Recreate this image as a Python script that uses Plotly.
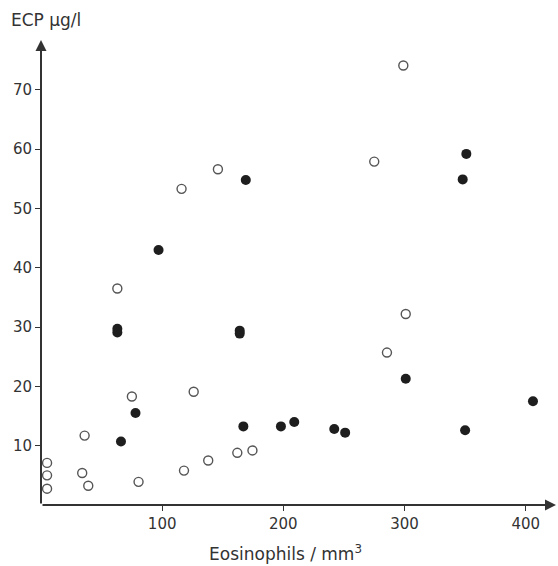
import plotly.graph_objects as go

# Open circles (series A)
open_x = [63, 75, 126, 36, 5, 5, 5, 34, 39, 80.5, 118, 138, 162, 174.5, 285.5, 301, 116, 146, 275, 299]
open_y = [36.5, 18.3, 19.1, 11.7, 7.1, 5.0, 2.75, 5.4, 3.25, 3.9, 5.8, 7.5, 8.8, 9.2, 25.7, 32.2, 53.3, 56.6, 57.9, 74.1]

# Filled circles (series B)
filled_x = [63, 63, 78, 66, 164, 164, 167, 198, 209, 242, 251, 301, 350, 406, 97, 169, 351, 348]
filled_y = [29.1, 29.7, 15.5, 10.7, 28.9, 29.4, 13.25, 13.25, 14.0, 12.8, 12.2, 21.3, 12.6, 17.5, 43.0, 54.8, 59.2, 54.9]

x_ticks = [100, 200, 300, 400]
y_ticks = [10, 20, 30, 40, 50, 60, 70]

X_MAX = 425
Y_MAX = 78.4
INK = "#333333"
FONT = "DejaVu Sans, Arial, sans-serif"

fig = go.Figure()
fig.add_trace(go.Scatter(
    x=open_x, y=open_y, mode="markers",
    marker=dict(symbol="circle-open", size=9, color="#555555", line=dict(width=1.4, color="#555555")),
    showlegend=False, hoverinfo="skip"))
fig.add_trace(go.Scatter(
    x=filled_x, y=filled_y, mode="markers",
    marker=dict(symbol="circle", size=10, color="#1e1e1e"),
    showlegend=False, hoverinfo="skip"))

# axis lines with arrowheads
fig.add_annotation(x=X_MAX, y=0, ax=0, ay=0, xref="x", yref="y", axref="x", ayref="y",
                   text="", showarrow=True, arrowhead=2, arrowsize=1.1, arrowwidth=2, arrowcolor=INK)
fig.add_annotation(x=0, y=Y_MAX, ax=0, ay=0, xref="x", yref="y", axref="x", ayref="y",
                   text="", showarrow=True, arrowhead=2, arrowsize=1.1, arrowwidth=2, arrowcolor=INK)

fig.add_annotation(x=-0.062, y=1.043, xref="paper", yref="paper", xanchor="left", yanchor="middle",
                   text="ECP µg/l", showarrow=False, font=dict(family=FONT, size=17, color=INK))
fig.add_annotation(x=0.475, y=-0.1025, xref="paper", yref="paper", xanchor="center", yanchor="middle",
                   text="Eosinophils / mm<sup>3</sup>", showarrow=False, font=dict(family=FONT, size=17, color=INK))

fig.update_layout(
    width=558, height=566,
    margin=dict(l=41, r=1.5, t=40, b=60.7),
    paper_bgcolor="white", plot_bgcolor="white",
    font=dict(family=FONT, size=15, color=INK),
    xaxis=dict(range=[0, X_MAX], tickvals=x_ticks, ticktext=[str(v) for v in x_ticks],
               showgrid=False, zeroline=False, showline=False,
               ticks="outside", ticklen=5, tickwidth=1.2, tickcolor=INK),
    yaxis=dict(range=[0, Y_MAX], tickvals=y_ticks, ticktext=[str(v) for v in y_ticks],
               showgrid=False, zeroline=False, showline=False,
               ticks="outside", ticklen=5, tickwidth=1.2, tickcolor=INK),
)

fig.write_html("out.html", config={"displayModeBar": False},
               post_script="document.body.style.margin='0';")
